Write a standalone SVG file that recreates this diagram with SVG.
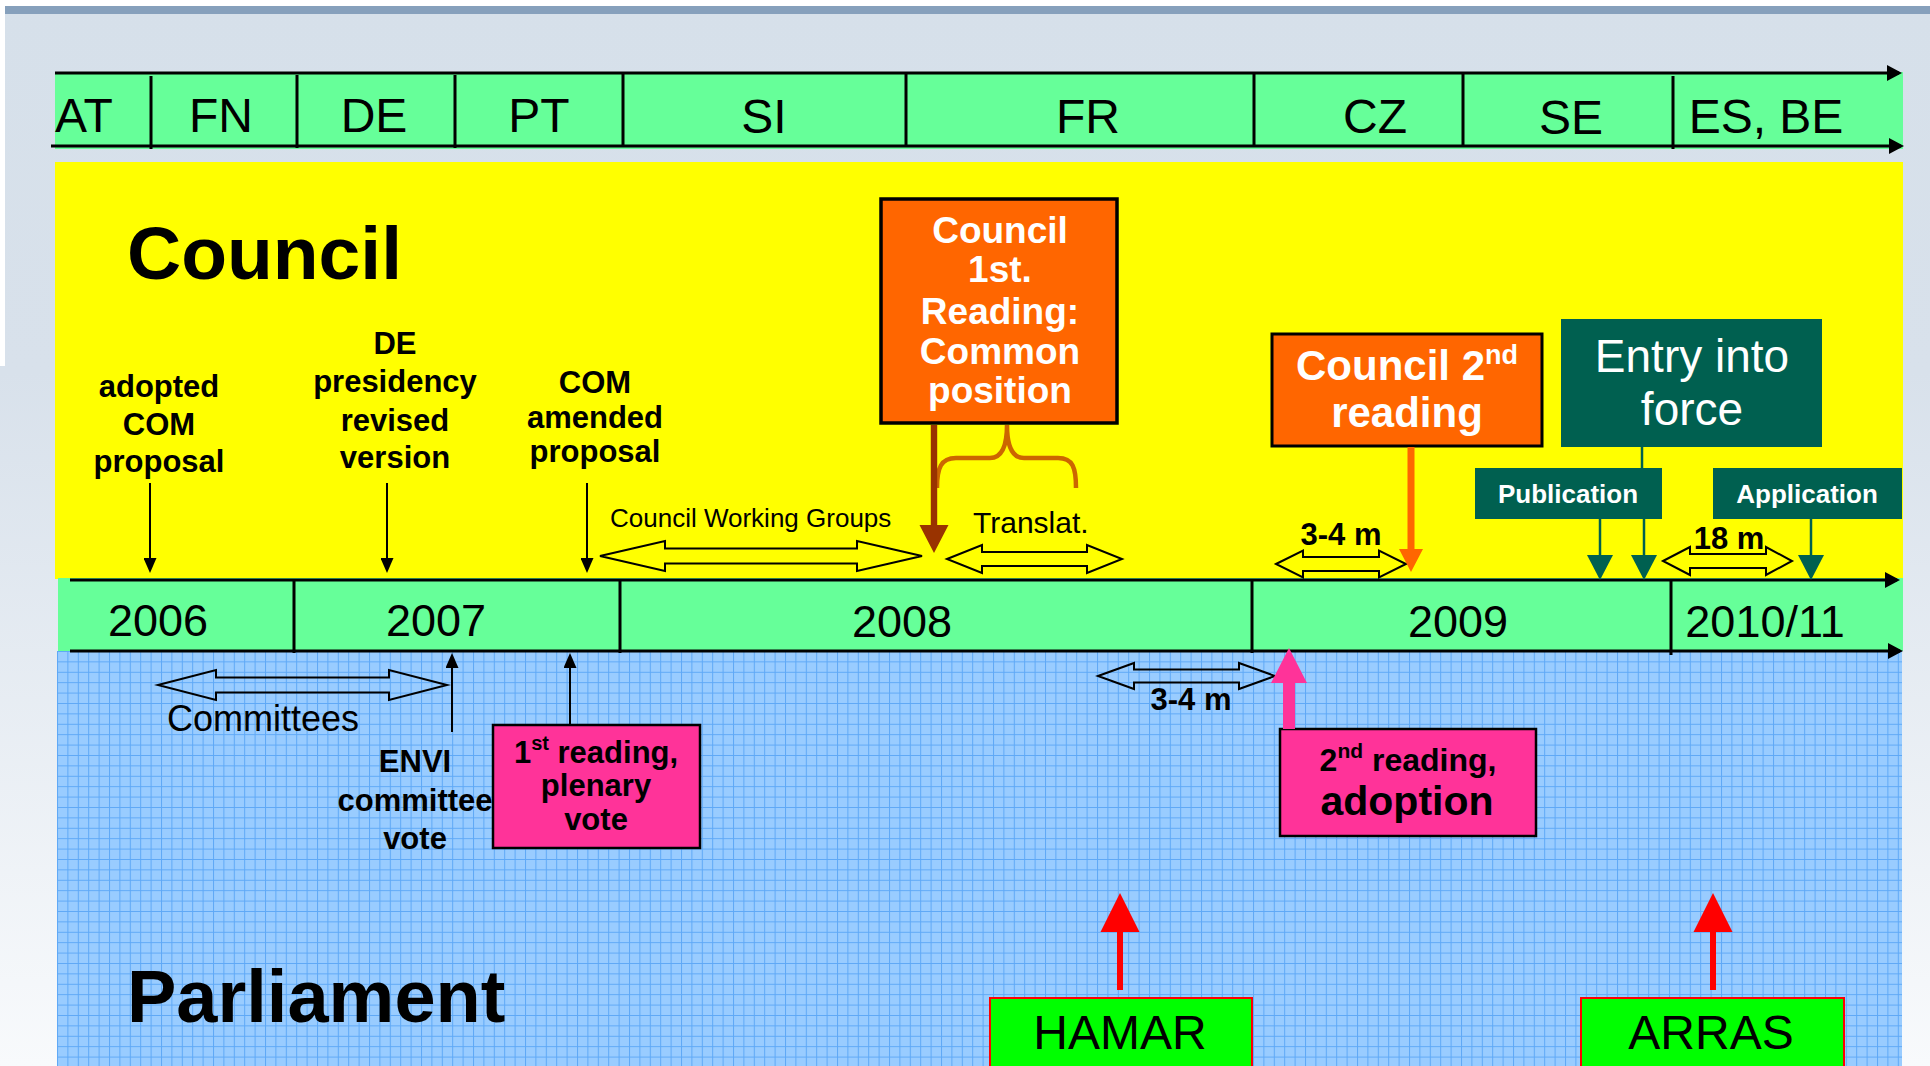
<svg xmlns="http://www.w3.org/2000/svg" width="1930" height="1066" viewBox="0 0 1930 1066">
<defs>
<linearGradient id="bg" x1="0" y1="0" x2="0" y2="1">
<stop offset="0" stop-color="#D6E0EA"/>
<stop offset="0.35" stop-color="#D8E1EB"/>
<stop offset="1" stop-color="#F8FAFC"/>
</linearGradient>
<pattern id="grid" x="57" y="651" width="10.4" height="10.4" patternUnits="userSpaceOnUse">
<rect width="10.4" height="10.4" fill="#99CCFF"/>
<path d="M0,0.5 H10.4 M0.5,0 V10.4" stroke="#5EA8F6" stroke-width="1"/>
</pattern>
<marker id="ahBlack" markerUnits="userSpaceOnUse" markerWidth="15" markerHeight="13" refX="12" refY="6.5" orient="auto">
<path d="M0,0 L15,6.5 L0,13 Z" fill="#000"/>
</marker>
<marker id="ahAxis" markerUnits="userSpaceOnUse" markerWidth="15" markerHeight="16" refX="12" refY="8" orient="auto">
<path d="M0,0 L15,8 L0,16 Z" fill="#000"/>
</marker>
<marker id="ahTeal" markerUnits="userSpaceOnUse" markerWidth="25" markerHeight="26" refX="22" refY="13" orient="auto">
<path d="M0,0 L25,13 L0,26 Z" fill="#006050"/>
</marker>
</defs>
<style>
text{font-family:"Liberation Sans",Arial,sans-serif;}
.lbl{font-size:48px;fill:#000;text-anchor:middle;}
.yr{font-size:45px;fill:#000;text-anchor:middle;}
.big{font-size:75px;font-weight:bold;fill:#000;}
.bl{font-size:31px;font-weight:bold;fill:#000;text-anchor:middle;}
.wb{font-weight:bold;fill:#fff;text-anchor:middle;}
.axis{stroke:#000;stroke-width:3;fill:none;}
.div{stroke:#000;stroke-width:3;}
.dbl{fill:none;stroke:#000;stroke-width:2;}
.thin{stroke:#000;stroke-width:2;fill:none;marker-end:url(#ahBlack);}
.teal{stroke:#006050;stroke-width:2.5;fill:none;}
.tealbox{fill:#006050;}
.pink{fill:#FF3399;stroke:#000;stroke-width:2.5;}
.orange{fill:#FF6600;stroke:#000;stroke-width:3.5;}
.city{fill:#00FF00;stroke:#FF0000;stroke-width:2;}
</style>

<!-- background -->
<rect x="0" y="0" width="1930" height="1066" fill="url(#bg)"/>
<rect x="0" y="0" width="1930" height="6" fill="#FFFFFF"/>
<rect x="0" y="0" width="5" height="366" fill="#FFFFFF"/>
<rect x="5" y="6" width="1925" height="8" fill="#86A0BC"/>

<!-- bands -->
<g id="council-area">
<rect x="55" y="162" width="1848" height="417" fill="#FFFF00"/>
<text class="big" x="127" y="279">Council</text>
</g>
<g id="parliament-area">
<rect x="57" y="651" width="1845" height="415" fill="url(#grid)"/>
<text class="big" x="127" y="1022" style="font-size:74px">Parliament</text>
</g>

<g id="presidencies">
<rect x="55" y="72" width="1848" height="77" fill="#66FF99"/>
<path class="axis" d="M55,73 H1899" marker-end="url(#ahAxis)"/>
<path class="axis" d="M51,146 H1901" marker-end="url(#ahAxis)"/>
<path class="div" d="M151,76 V149 M297,75 V148 M455,75 V148 M623,74 V147 M906,74 V147 M1254,74 V147 M1463,73 V146 M1673,76 V149"/>
<text class="lbl" x="84" y="132">AT</text>
<text class="lbl" x="221" y="132">FN</text>
<text class="lbl" x="374" y="132">DE</text>
<text class="lbl" x="539" y="132">PT</text>
<text class="lbl" x="764" y="133">SI</text>
<text class="lbl" x="1088" y="133">FR</text>
<text class="lbl" x="1375" y="133">CZ</text>
<text class="lbl" x="1571" y="134">SE</text>
<text class="lbl" x="1766" y="133">ES, BE</text>
</g>

<g id="years">
<rect x="58" y="578" width="1845" height="73" fill="#66FF99"/>
<path class="axis" d="M70,580 H1897" marker-end="url(#ahAxis)"/>
<path class="axis" d="M70,651 H1900" marker-end="url(#ahAxis)"/>
<path class="div" d="M294,579 V653 M620,579 V653 M1252,579 V653 M1671,579 V655"/>
<text class="yr" x="158" y="636">2006</text>
<text class="yr" x="436" y="636">2007</text>
<text class="yr" x="902" y="637">2008</text>
<text class="yr" x="1458" y="637">2009</text>
<text class="yr" x="1765" y="637">2010/11</text>
</g>

<!-- council nodes -->
<g id="adopted-com-proposal">
<text class="bl" x="159" y="397">adopted</text>
<text class="bl" x="159" y="435">COM</text>
<text class="bl" x="159" y="472">proposal</text>
</g>
<g id="de-presidency-revised">
<text class="bl" x="395" y="354">DE</text>
<text class="bl" x="395" y="392">presidency</text>
<text class="bl" x="395" y="431">revised</text>
<text class="bl" x="395" y="468">version</text>
</g>
<g id="com-amended-proposal">
<text class="bl" x="595" y="393">COM</text>
<text class="bl" x="595" y="428">amended</text>
<text class="bl" x="595" y="462">proposal</text>
</g>
<g id="council-working-groups">
<text x="610" y="527" style="font-size:26px">Council Working Groups</text>
</g>
<g id="council-first-reading">
<rect class="orange" x="881" y="199" width="236" height="224"/>
<text class="wb" x="1000" y="243" style="font-size:37px">Council</text>
<text class="wb" x="1000" y="282" style="font-size:37px">1st.</text>
<text class="wb" x="1000" y="324" style="font-size:37px">Reading:</text>
<text class="wb" x="1000" y="364" style="font-size:37px">Common</text>
<text class="wb" x="1000" y="403" style="font-size:37px">position</text>
</g>
<g id="translation">
<text x="973" y="533" style="font-size:30px">Translat.</text>
</g>
<g id="council-second-reading">
<rect class="orange" x="1272" y="334" width="270" height="112" style="stroke-width:3"/>
<text class="wb" x="1407" y="380" style="font-size:42px">Council 2<tspan dy="-16" style="font-size:27px">nd</tspan></text>
<text class="wb" x="1407" y="427" style="font-size:42px">reading</text>
</g>
<g id="council-3-4m">
<text class="bl" x="1341" y="545">3-4 m</text>
</g>
<g id="entry-into-force">
<rect class="tealbox" x="1561" y="319" width="261" height="128"/>
<text class="wb" x="1692" y="372" style="font-size:46px;font-weight:normal">Entry into</text>
<text class="wb" x="1692" y="425" style="font-size:46px;font-weight:normal">force</text>
</g>
<g id="publication">
<rect class="tealbox" x="1475" y="468" width="187" height="51"/>
<text class="wb" x="1568" y="503" style="font-size:26px">Publication</text>
</g>
<g id="application">
<rect class="tealbox" x="1713" y="468" width="189" height="51"/>
<text class="wb" x="1807" y="503" style="font-size:26px">Application</text>
</g>
<g id="months-18">
<text class="bl" x="1729" y="549">18 m</text>
</g>

<!-- parliament nodes -->
<g id="committees">
<text x="167" y="731" style="font-size:36px">Committees</text>
</g>
<g id="envi-committee-vote">
<text class="bl" x="415" y="772">ENVI</text>
<text class="bl" x="415" y="811">committee</text>
<text class="bl" x="415" y="849">vote</text>
</g>
<g id="ep-first-reading">
<rect class="pink" x="493" y="725" width="207" height="123"/>
<text class="bl" x="596" y="763">1<tspan dy="-13" style="font-size:20px">st</tspan><tspan dy="13"> reading,</tspan></text>
<text class="bl" x="596" y="796">plenary</text>
<text class="bl" x="596" y="830">vote</text>
</g>
<g id="parliament-3-4m">
<text class="bl" x="1191" y="710">3-4 m</text>
</g>
<g id="ep-second-reading">
<rect class="pink" x="1280" y="729" width="256" height="107"/>
<text class="bl" x="1408" y="771" style="font-size:32px">2<tspan dy="-13" style="font-size:21px">nd</tspan><tspan dy="13"> reading,</tspan></text>
<text class="bl" x="1407" y="815" style="font-size:41px">adoption</text>
</g>
<g id="hamar">
<rect class="city" x="990" y="998" width="262" height="80"/>
<text x="1120" y="1049" style="font-size:48px;text-anchor:middle">HAMAR</text>
</g>
<g id="arras">
<rect class="city" x="1581" y="998" width="263" height="80"/>
<text x="1711" y="1049" style="font-size:48px;text-anchor:middle">ARRAS</text>
</g>

<!-- connectors -->
<g id="connectors">
<path class="thin" d="M150,483 V570"/>
<path class="thin" d="M387,483 V570"/>
<path class="thin" d="M587,483 V570"/>
<path class="thin" d="M452,732 V656"/>
<path class="thin" d="M570,724 V656"/>

<path class="dbl" d="M600,556 L665,541 L665,548.5 L857,548.5 L857,541 L922,556 L857,571 L857,563.5 L665,563.5 L665,571 Z"/>
<path class="dbl" d="M947,559 L982,545 L982,552 L1087,552 L1087,545 L1122,559 L1087,573 L1087,566 L982,566 L982,573 Z"/>
<path class="dbl" d="M1276,564 L1303,550.5 L1303,557 L1379,557 L1379,550.5 L1406,564 L1379,577.5 L1379,571 L1303,571 L1303,577.5 Z"/>
<path class="dbl" d="M1663,561 L1690,547 L1690,554 L1766,554 L1766,547 L1792,561 L1766,575 L1766,568 L1690,568 L1690,575 Z"/>
<path class="dbl" d="M158,685 L216,670 L216,677.5 L389,677.5 L389,670 L447,685 L389,700 L389,692.5 L216,692.5 L216,700 Z"/>
<path class="dbl" d="M1098,676 L1134,663 L1134,669.5 L1239,669.5 L1239,663 L1275,676 L1239,689 L1239,682.5 L1134,682.5 L1134,689 Z"/>

<path d="M937,488 C937,468 941,458 956,458 L990,458 C1002,458 1007,446 1007,425 C1007,446 1012,458 1024,458 L1058,458 C1073,458 1076,468 1076,488" fill="none" stroke="#CC6600" stroke-width="4.5"/>
<polygon points="930.8,425 937.2,425 937.2,525 948.5,525 934,553 919.5,525 930.8,525" fill="#993300"/>
<polygon points="1407.5,447 1414.5,447 1414.5,549 1423,549 1411,572 1399,549 1407.5,549" fill="#FF6600"/>

<path class="teal" d="M1642,447 V468"/>
<path class="teal" d="M1600,519 V577" marker-end="url(#ahTeal)"/>
<path class="teal" d="M1644,519 V577" marker-end="url(#ahTeal)"/>
<path class="teal" d="M1811,519 V577" marker-end="url(#ahTeal)"/>

<polygon points="1283,729 1295,729 1295,683 1307,683 1289,648 1271,683 1283,683" fill="#FF3399"/>
<polygon points="1117,990 1123,990 1123,932 1139.5,932 1120,893 1100.5,932 1117,932" fill="#FF0000"/>
<polygon points="1710,990 1716,990 1716,932 1732.5,932 1713,893 1693.5,932 1710,932" fill="#FF0000"/>
</g>
</svg>
